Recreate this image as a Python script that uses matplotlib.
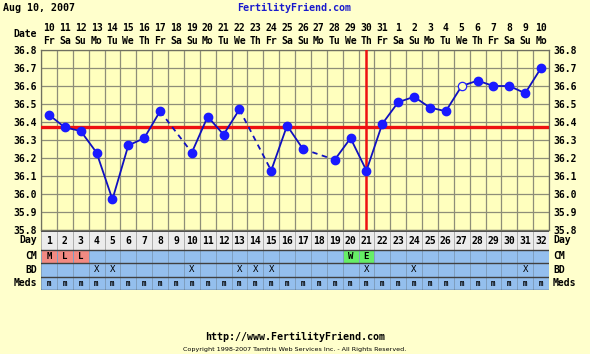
import matplotlib
matplotlib.use("Agg")
import matplotlib.pyplot as plt
import matplotlib.transforms as mtransforms
import numpy as np

# ---- data ----
days = list(range(1, 33))
date_nums = ["10","11","12","13","14","15","16","17","18","19","20","21","22","23","24","25",
             "26","27","28","29","30","31","1","2","3","4","5","6","7","8","9","10"]
weekdays = ["Fr","Sa","Su","Mo","Tu","We","Th"] * 4 + ["Fr","Sa","Su","Mo"]
temps = [36.44, 36.37, 36.35, 36.23, 35.97, 36.27, 36.31, 36.46, None, 36.23,
         36.43, 36.33, 36.47, None, 36.13, 36.38, 36.25, None, 36.19, 36.31,
         36.13, 36.39, 36.51, 36.54, 36.48, 36.46, 36.60, 36.63, 36.60, 36.60,
         36.56, 36.70]
hollow_days = [27]
coverline = 36.37
ovulation_day = 21
y_ticks = [35.8, 35.9, 36.0, 36.1, 36.2, 36.3, 36.4, 36.5, 36.6, 36.7, 36.8]
cm_entries = {1: "M", 2: "L", 3: "L", 20: "W", 21: "E"}
bd_days = [4, 5, 10, 13, 14, 15, 21, 24, 31]
meds_label = "m"

# ---- figure ----
W, H = 590, 354
fig = plt.figure(figsize=(W/100, H/100), dpi=100)
fig.patch.set_facecolor("#ffffcc")
FONT = "DejaVu Sans Mono"

def fx(px): return px / W
def fy(py): return 1 - py / H

L, R, T, B = 41, 549, 50, 230
ax = fig.add_axes([fx(L), fy(B), fx(R - L), (B - T) / H])
ax.set_facecolor("#ffffbe")
ax.set_xlim(0.5, 32.5)
ax.set_ylim(35.8, 36.8)
grid_col = "#8e8e78"
for i in range(33):
    ax.axvline(0.5 + i, color=grid_col, lw=0.9, zorder=1)
for v in y_ticks:
    ax.axhline(v, color=grid_col, lw=0.9, zorder=1)
for s in ax.spines.values():
    s.set_color("#707060"); s.set_linewidth(0.9)
ax.set_xticks([])
ax.set_yticks(y_ticks)
ax.set_yticklabels([f"{v:.1f}" for v in y_ticks], fontfamily=FONT, fontweight="bold", fontsize=7)
ax.tick_params(axis="y", length=0, pad=3, labelright=True, labelleft=True)

# coverline & ovulation line
ax.axhline(coverline, color="#ee1111", lw=2.4, zorder=3)
ax.axvline(ovulation_day, color="#ee1111", lw=1.8, zorder=3)

# temperature lines: solid between consecutive days, dashed across gaps
line_col = "#1010c0"
known = [(d, t) for d, t in zip(days, temps) if t is not None]
for (d0, t0), (d1, t1) in zip(known[:-1], known[1:]):
    ls = "-" if d1 - d0 == 1 else (0, (3, 2.5))
    ax.plot([d0, d1], [t0, t1], color=line_col, lw=1.3, ls=ls, zorder=4)
for d, t in known:
    if d in hollow_days:
        ax.plot(d, t, "o", ms=6, mfc="#ffffbe", mec="#2020ff", mew=0.9, zorder=5)
    else:
        ax.plot(d, t, "o", ms=6, color="#1a1aff", zorder=5)

# date rows above
trans = mtransforms.blended_transform_factory(ax.transData, fig.transFigure)
for d, n, w in zip(days, date_nums, weekdays):
    ax.text(d, fy(28), n, transform=trans, ha="center", va="center",
            fontfamily=FONT, fontweight="bold", fontsize=7)
    ax.text(d, fy(41), w, transform=trans, ha="center", va="center",
            fontfamily=FONT, fontweight="bold", fontsize=7)
fig.text(fx(37), fy(34), "Date", ha="right", va="center", fontfamily=FONT,
         fontweight="bold", fontsize=7)

# ---- table ----
tT, tB = 231, 290
tax = fig.add_axes([fx(L), fy(tB), fx(R - L), (tB - tT) / H])
tax.set_xlim(0.5, 32.5)
tax.set_ylim(tB, tT)
tax.axis("off")
rows = [("Day", 231, 249.5), ("CM", 249.5, 263), ("BD", 263, 276.5), ("Meds", 276.5, 290)]
blue = "#94bfee"
for name, y0, y1 in rows:
    if name == "Day":
        cols = ["#ececec"] * 32
        ec = "#b0b0b0"
    elif name == "CM":
        cols = []
        for d in days:
            e = cm_entries.get(d)
            if e in ("M", "L"):
                cols.append("#f28a82")
            elif e in ("W", "E"):
                cols.append("#66ee66")
            else:
                cols.append(blue)
        ec = "#7f9fc0"
    else:
        cols = [blue] * 32
        ec = "#7f9fc0"
    tax.bar(days, y1 - y0, bottom=y0, width=1.0, color=cols, edgecolor=ec, lw=0.7, zorder=1)
    tax.plot([0.5, 32.5], [y1, y1], color="#404040", lw=1.0, zorder=2)
    ym = (y0 + y1) / 2
    fig.text(fx(37), fy(ym), name, ha="right", va="center", fontfamily=FONT,
             fontweight="bold", fontsize=7)
    fig.text(fx(553), fy(ym), name, ha="left", va="center", fontfamily=FONT,
             fontweight="bold", fontsize=7)
tax.plot([0.5, 32.5], [231, 231], color="#505050", lw=1.4, zorder=2)

for d in days:
    tax.text(d, 240.5, str(d), ha="center", va="center", fontfamily=FONT,
             fontweight="bold", fontsize=7)
    tax.text(d, 283.5, meds_label, ha="center", va="center", fontfamily=FONT,
             fontweight="bold", fontsize=5.5)
for d, e in cm_entries.items():
    tax.text(d, 256.5, e, ha="center", va="center", fontfamily=FONT,
             fontweight="bold", fontsize=6.5)
for d in bd_days:
    tax.text(d, 270, "X", ha="center", va="center", fontfamily=FONT, fontsize=6.5)

# ---- header / footer ----
fig.text(fx(3), fy(8), "Aug 10, 2007", ha="left", va="center", fontfamily=FONT,
         fontweight="bold", fontsize=7.2)
fig.text(fx(294), fy(8), "FertilityFriend.com", ha="center", va="center",
         fontfamily=FONT, fontweight="bold", fontsize=7.2, color="#1a1acc")
fig.text(fx(295), fy(337), "http://www.FertilityFriend.com", ha="center", va="center",
         fontfamily=FONT, fontweight="bold", fontsize=7.2)
fig.text(fx(295), fy(350), "Copyright 1998-2007 Tamtris Web Services Inc. - All Rights Reserved.",
         ha="center", va="center", fontfamily="DejaVu Sans", fontsize=4.6)

fig.savefig("out.png", dpi=100, facecolor=fig.get_facecolor())
